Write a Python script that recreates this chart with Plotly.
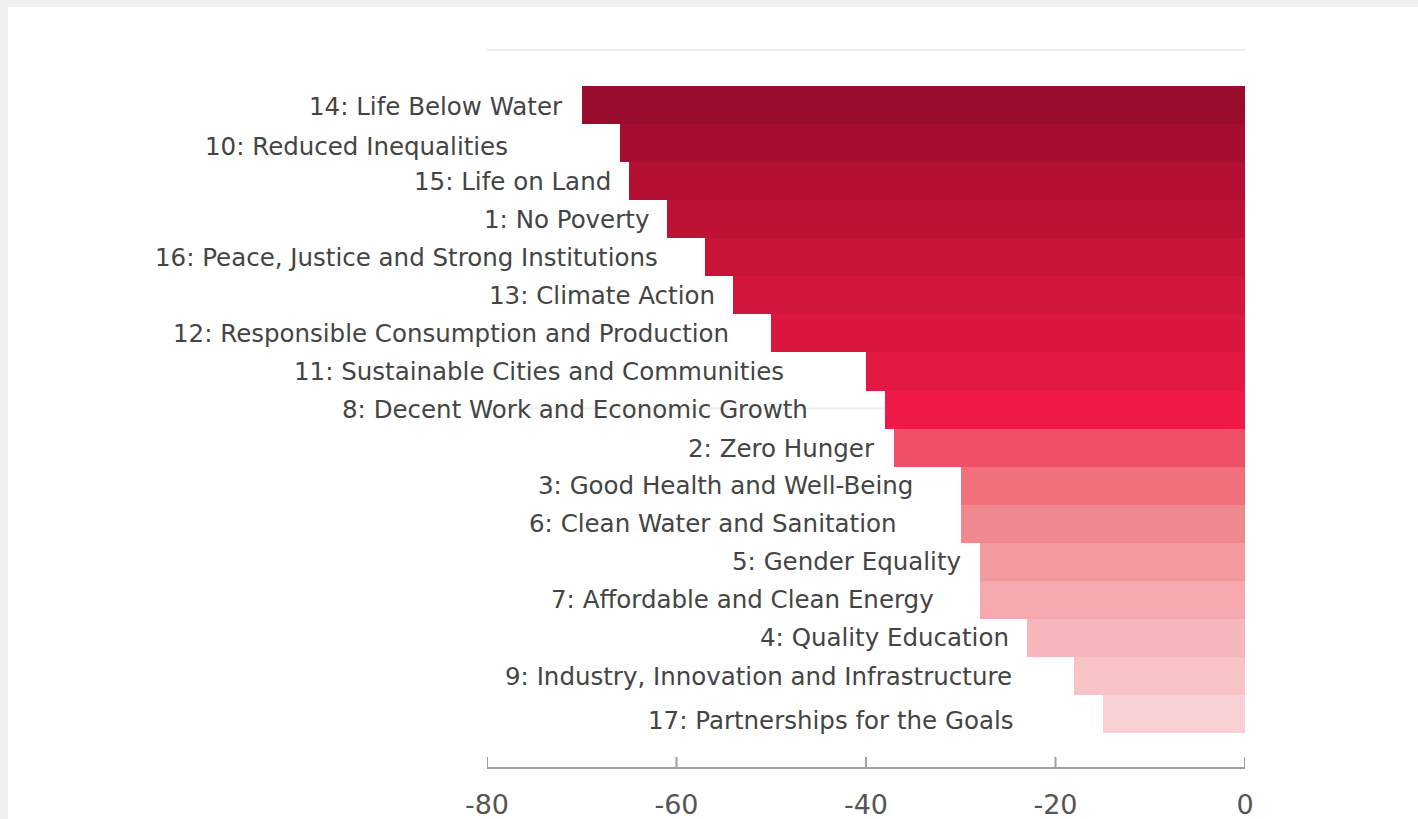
import plotly.graph_objects as go

# ---- data (top to bottom) ----
goals = [
    "14: Life Below Water",
    "10: Reduced Inequalities",
    "15: Life on Land",
    "1: No Poverty",
    "16: Peace, Justice and Strong Institutions",
    "13: Climate Action",
    "12: Responsible Consumption and Production",
    "11: Sustainable Cities and Communities",
    "8: Decent Work and Economic Growth",
    "2: Zero Hunger",
    "3: Good Health and Well-Being",
    "6: Clean Water and Sanitation",
    "5: Gender Equality",
    "7: Affordable and Clean Energy",
    "4: Quality Education",
    "9: Industry, Innovation and Infrastructure",
    "17: Partnerships for the Goals",
]
values = [-70, -66, -65, -61, -57, -54, -50, -40, -38, -37, -30, -30, -28, -28, -23, -18, -15]
x_ticks = [-80, -60, -40, -20, 0]

# ---- styling ----
bar_colors = [
    "#9a0c2c", "#a60e30", "#b31033", "#bd1236", "#c81439", "#d2163d",
    "#db1740", "#e41844", "#ef1a4a", "#ef5068", "#f0707c", "#f08890",
    "#f29aa0", "#f5a8ad", "#f6b7bc", "#f7c3c7", "#f9d0d3",
]
# right edge of each label, in axis units (label layout of the original)
label_x = [-71.8, -77.6, -66.7, -62.7, -61.7, -55.7, -54.3, -48.4, -45.9,
           -38.8, -34.8, -36.5, -29.8, -32.6, -24.7, -24.4, -24.2]
label_yshift = [-1, -3, 0, 0, 0, 0, 0, 0, 0, -1, 0, 0, 0, 0, 0, 0, -6]

FONT = "DejaVu Sans"
AXIS_COLOR = "#9aa0a8"
W, H = 1418, 819
ML, MR, MT, MB = 487, 173, 50, 52
PW, PH = W - ML - MR, H - MT - MB
TICK_LEN = 10

fig = go.Figure()
fig.add_trace(go.Bar(
    y=goals, x=values, orientation="h",
    marker=dict(color=bar_colors, line=dict(width=0)),
    hoverinfo="skip",
))

for g, lx, ys in zip(goals, label_x, label_yshift):
    fig.add_annotation(
        x=lx, y=g, xref="x", yref="y", text=g, showarrow=False,
        xanchor="right", yanchor="middle", yshift=ys,
        font=dict(family=FONT, size=24.5, color="#444444"),
    )

# white card on a light-grey page
fig.add_shape(type="rect", xref="paper", yref="paper",
              x0=(8 - ML) / PW, x1=(W + 10 - ML) / PW,
              y0=-(H + 10 - MT - PH) / PH, y1=(H - MB - 7) / PH,
              fillcolor="white", line=dict(width=0), layer="below")

# faint horizontal guide lines
for py in [1.0, 0.5]:
    fig.add_shape(type="line", xref="paper", yref="paper", x0=0, x1=1, y0=py, y1=py,
                  line=dict(color="#eeeeee", width=2), layer="below")

# upward tick marks at every x tick (including the range ends)
for tv in x_ticks:
    fig.add_shape(type="line", xref="x", yref="paper", x0=tv, x1=tv,
                  y0=0, y1=TICK_LEN / PH, line=dict(color=AXIS_COLOR, width=2),
                  layer="above")

fig.update_layout(
    width=W, height=H,
    margin=dict(l=ML, r=MR, t=MT, b=MB, autoexpand=False),
    paper_bgcolor="#f0f0f0", plot_bgcolor="rgba(0,0,0,0)",
    bargap=0, showlegend=False,
    font=dict(family=FONT),
    xaxis=dict(
        range=[-80, 0], tickvals=x_ticks, ticktext=[str(v) for v in x_ticks],
        showgrid=False, zeroline=False, showline=True, linecolor=AXIS_COLOR, linewidth=2,
        ticks="", tickfont=dict(family=FONT, size=27, color="#555555"),
        ticklabelstandoff=13, fixedrange=True,
    ),
    yaxis=dict(
        type="category", categoryorder="array", categoryarray=goals,
        range=[17.39, -1.446], showticklabels=False, showgrid=False,
        zeroline=False, showline=False, ticks="", fixedrange=True,
    ),
)

fig.write_html(
    "out.html",
    config={"displayModeBar": False},
    post_script="document.body.style.margin='0';document.body.style.overflow='hidden';"
                "document.body.style.backgroundColor='#f0f0f0';",
)
